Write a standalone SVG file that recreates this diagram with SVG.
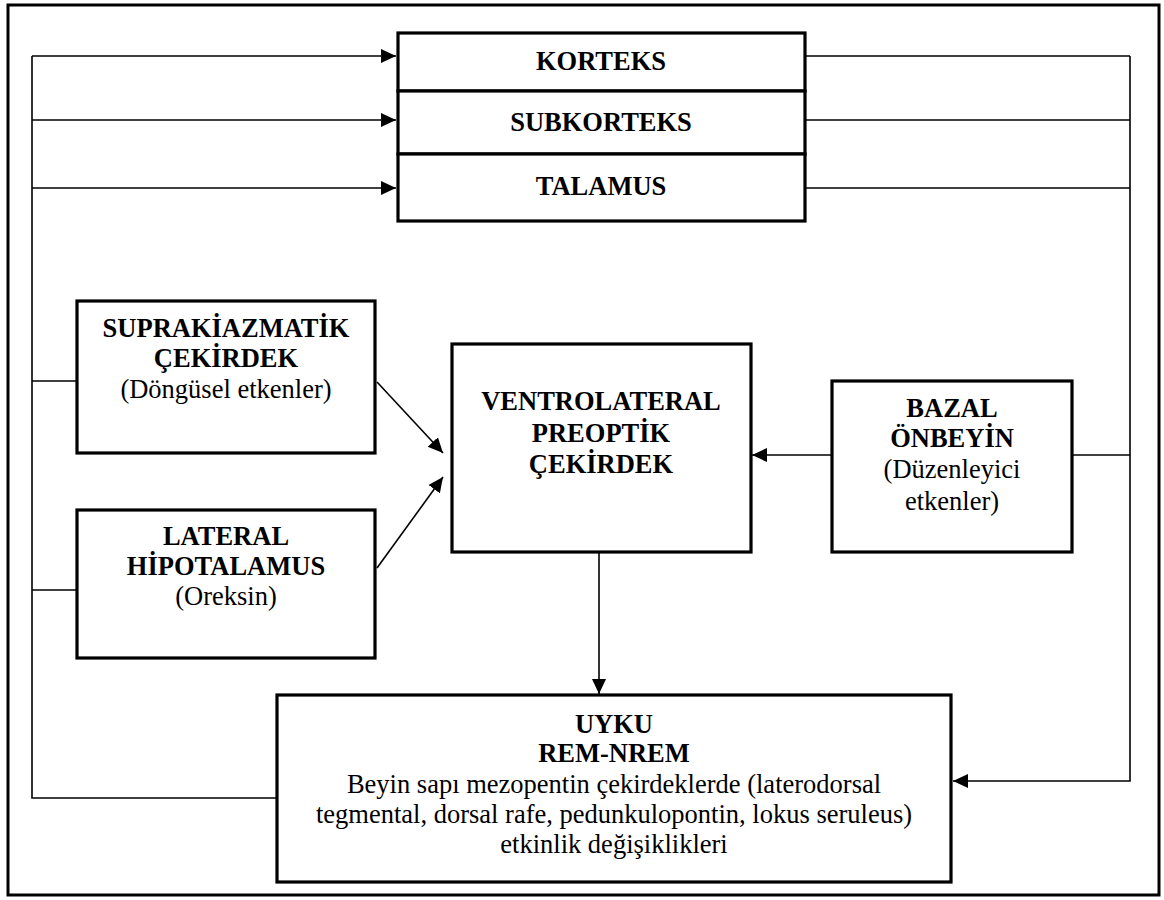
<svg xmlns="http://www.w3.org/2000/svg" width="1164" height="900" viewBox="0 0 1164 900">
<defs>
<style>
.box{fill:#fff;stroke:#000;stroke-width:3.2}
.ln{fill:none;stroke:#000;stroke-width:1.6}
text{font-family:"Liberation Serif","Times New Roman",serif;font-size:26.5px;fill:#000;text-anchor:middle}
.b{font-weight:bold}
</style>
<marker id="ah" markerUnits="userSpaceOnUse" markerWidth="16" markerHeight="16" viewBox="0 0 16 16" refX="15" refY="8" orient="auto">
<path d="M0,1 L15,8 L0,15 Z" fill="#000"/>
</marker>
</defs>
<rect x="0" y="0" width="1164" height="900" fill="#fff"/>
<rect id="frame" x="8" y="5" width="1151" height="890" fill="none" stroke="#000" stroke-width="3"/>
<g id="connectors">
<polyline class="ln" points="32,56 32,798 277,798"/>
<line class="ln" x1="32" y1="56" x2="396" y2="56" marker-end="url(#ah)"/>
<line class="ln" x1="32" y1="120" x2="396" y2="120" marker-end="url(#ah)"/>
<line class="ln" x1="32" y1="188" x2="396" y2="188" marker-end="url(#ah)"/>
<line class="ln" x1="32" y1="381" x2="77" y2="381"/>
<line class="ln" x1="32" y1="590" x2="77" y2="590"/>
<line class="ln" x1="805" y1="56" x2="1130" y2="56"/>
<line class="ln" x1="805" y1="120" x2="1130" y2="120"/>
<line class="ln" x1="805" y1="188" x2="1130" y2="188"/>
<polyline class="ln" points="1072,455 1130,455"/>
<polyline class="ln" points="1130,56 1130,781 953,781" marker-end="url(#ah)"/>
<line class="ln" x1="377" y1="382" x2="443" y2="453" marker-end="url(#ah)"/>
<line class="ln" x1="377" y1="568" x2="443" y2="477" marker-end="url(#ah)"/>
<line class="ln" x1="832" y1="455" x2="752" y2="455" marker-end="url(#ah)"/>
<line class="ln" x1="599" y1="552" x2="599" y2="694" marker-end="url(#ah)"/>
</g>
<g id="korteks">
<rect class="box" x="398" y="33" width="407" height="58"/>
<text class="b" x="601" y="70">KORTEKS</text>
</g>
<g id="subkorteks">
<rect class="box" x="398" y="91" width="407" height="63"/>
<text class="b" x="601" y="131">SUBKORTEKS</text>
</g>
<g id="talamus">
<rect class="box" x="398" y="154" width="407" height="67"/>
<text class="b" x="601" y="195">TALAMUS</text>
</g>
<g id="suprakiazmatik">
<rect class="box" x="77" y="301" width="298" height="152"/>
<text class="b" x="226" y="337">SUPRAKİAZMATİK</text>
<text class="b" x="226" y="367">ÇEKİRDEK</text>
<text x="226" y="398">(Döngüsel etkenler)</text>
</g>
<g id="lateral">
<rect class="box" x="77" y="510" width="298" height="148"/>
<text class="b" x="226" y="545">LATERAL</text>
<text class="b" x="226" y="575">HİPOTALAMUS</text>
<text x="226" y="605">(Oreksin)</text>
</g>
<g id="vlpo">
<rect class="box" x="452" y="344" width="299" height="208"/>
<text class="b" x="601" y="410">VENTROLATERAL</text>
<text class="b" x="601" y="442">PREOPTİK</text>
<text class="b" x="601" y="473">ÇEKİRDEK</text>
</g>
<g id="bazal">
<rect class="box" x="832" y="381" width="240" height="171"/>
<text class="b" x="952" y="417">BAZAL</text>
<text class="b" x="952" y="447">ÖNBEYİN</text>
<text x="952" y="478">(Düzenleyici</text>
<text x="952" y="510">etkenler)</text>
</g>
<g id="uyku">
<rect class="box" x="277" y="695" width="674" height="187"/>
<text class="b" x="614" y="733">UYKU</text>
<text class="b" x="614" y="762">REM-NREM</text>
<text x="614" y="793">Beyin sapı mezopentin çekirdeklerde (laterodorsal</text>
<text x="614" y="823">tegmental, dorsal rafe, pedunkulopontin, lokus seruleus)</text>
<text x="614" y="853">etkinlik değişiklikleri</text>
</g>
</svg>
